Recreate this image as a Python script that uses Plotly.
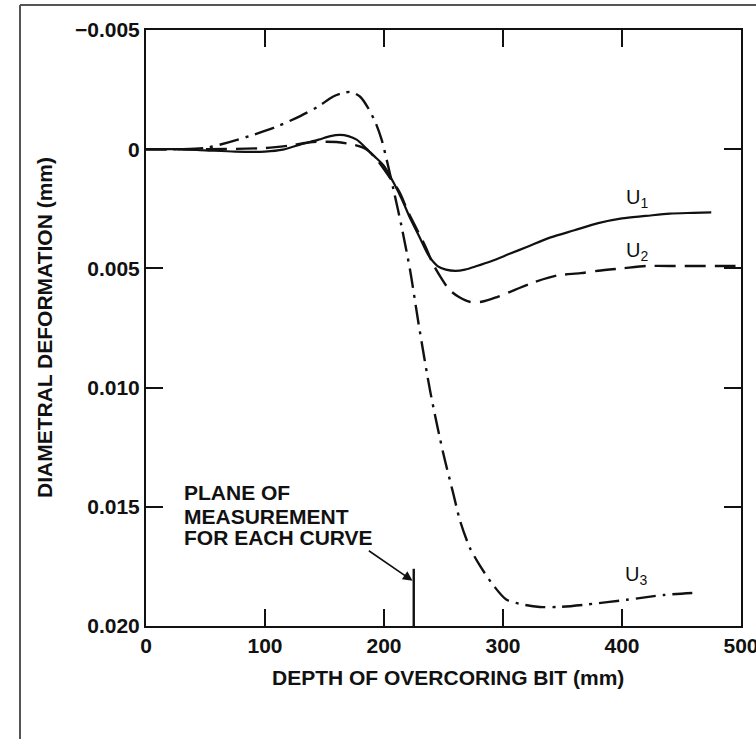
import plotly.graph_objects as go

# ---- data ----
u1_x = [0, 25, 50, 75, 100, 115, 130, 145, 155, 163, 170, 177, 185, 192, 200, 208, 215, 222, 230, 238, 245,
        252, 260, 268, 278, 290, 305, 320, 340, 360, 380, 400, 420, 440, 460, 475]
u1_y = [0, 0, 0.00005, 0.0001, 0.0001, 0.00002, -0.0002, -0.0004, -0.00055, -0.0006, -0.00055, -0.0004,
        -0.00004, 0.0003, 0.0007, 0.0014, 0.0021, 0.0029, 0.0037, 0.0045, 0.0049, 0.00505, 0.0051, 0.00505,
        0.0049, 0.0047, 0.0044, 0.0041, 0.0037, 0.0034, 0.0031, 0.0029, 0.0028, 0.0027, 0.00267, 0.00265]

u2_x = [0, 50, 100, 120, 140, 160, 175, 185, 195, 205, 213, 220, 228, 235, 241, 248, 255, 263, 272, 282,
        295, 310, 325, 345, 365, 380, 400, 420, 440, 460, 480, 500]
u2_y = [0, 0, -0.00005, -0.00015, -0.0003, -0.0003, -0.00018, 0.0, 0.0005, 0.0012, 0.0018, 0.0026, 0.0034,
        0.0041, 0.0048, 0.0054, 0.0059, 0.0062, 0.0064, 0.0064, 0.0062, 0.0059, 0.0056, 0.0053, 0.0052,
        0.0051, 0.0050, 0.0049, 0.0049, 0.0049, 0.0049, 0.0049]

u3_x = [0, 25, 50, 70, 90, 110, 130, 145, 157, 165, 172, 180, 187, 193, 198, 203, 208, 215, 222, 229, 239,
        250, 258, 264, 272, 281, 292, 303, 317, 331, 347, 370, 404, 435, 465]
u3_y = [0, 0, -0.00005, -0.0003, -0.0006, -0.00095, -0.0014, -0.0018, -0.0022, -0.00235, -0.0024, -0.0022,
        -0.0017, -0.0011, -0.0004, 0.0006, 0.0017, 0.0033, 0.0051, 0.0073, 0.0102, 0.0128, 0.0144, 0.0156,
        0.0167, 0.0175, 0.0183, 0.0189, 0.0191, 0.0192, 0.0192, 0.0191, 0.0189, 0.0187, 0.0186]

plane_x = [225, 225]
plane_y = [0.0176, 0.020]

x_ticks = [0, 100, 200, 300, 400, 500]
x_ticktext = ["0", "100", "200", "300", "400", "500"]
y_ticks = [-0.005, 0, 0.005, 0.010, 0.015, 0.020]
y_ticktext = ["\u22120.005", "0", "0.005", "0.010", "0.015", "0.020"]

curve_labels = ["U<sub>1</sub>", "U<sub>2</sub>", "U<sub>3</sub>"]
label_x = [413, 413, 412]
label_y = [0.00205, 0.0043, 0.0179]

note_lines = ["PLANE OF", "MEASUREMENT", "FOR EACH CURVE"]
note_x = 30
note_y = [0.0144, 0.0154, 0.0163]

FONT = "Liberation Sans, Arial, sans-serif"
INK = "#111111"

fig = go.Figure()
fig.add_trace(go.Scatter(x=u1_x, y=u1_y, mode="lines", line=dict(color=INK, width=2.2, shape="spline", smoothing=0.8)))
fig.add_trace(go.Scatter(x=u2_x, y=u2_y, mode="lines", line=dict(color=INK, width=2.4, dash="21px,9px", shape="spline", smoothing=0.8)))
fig.add_trace(go.Scatter(x=u3_x, y=u3_y, mode="lines", line=dict(color=INK, width=2.4, dash="20px,7px,3px,7px", shape="spline", smoothing=0.8)))
fig.add_trace(go.Scatter(x=plane_x, y=plane_y, mode="lines", line=dict(color=INK, width=2.4)))

annotations = []
for t, lx, ly in zip(curve_labels, label_x, label_y):
    annotations.append(dict(x=lx, y=ly, xref="x", yref="y", text=t, showarrow=False,
                            font=dict(family=FONT, size=20, color=INK)))

for t, ny in zip(note_lines, note_y):
    annotations.append(dict(x=note_x, y=ny, xref="x", yref="y", xanchor="left", yanchor="middle",
                            text="<b>" + t + "</b>", showarrow=False,
                            font=dict(family=FONT, size=21, color=INK)))
annotations.append(dict(x=224, y=0.0181, xref="x", yref="y", ax=186, ay=0.0168, axref="x", ayref="y",
                        text="", showarrow=True, arrowhead=2, arrowsize=1.2, arrowwidth=1.6, arrowcolor=INK,
                        standoff=0))
annotations.append(dict(x=-0.1613, y=0.5, xref="paper", yref="paper", textangle=-90, showarrow=False,
                        xanchor="center", yanchor="middle", xshift=-6,
                        text="<b>DIAMETRAL DEFORMATION (mm)</b>", font=dict(family=FONT, size=21, color=INK)))
annotations.append(dict(x=0.5076, y=-0.087, xref="paper", yref="paper", showarrow=False,
                        xanchor="center", yanchor="middle",
                        text="<b>DEPTH OF OVERCORING BIT (mm)</b>", font=dict(family=FONT, size=21, color=INK)))

fig.update_layout(
    width=756, height=739,
    margin=dict(l=146, r=15, t=30, b=113, autoexpand=False),
    paper_bgcolor="white", plot_bgcolor="white",
    showlegend=False,
    annotations=annotations,
    shapes=[
        dict(type="line", xref="paper", yref="paper", x0=(20 - 146) / 595, x1=(20 - 146) / 595,
             y0=1 + 25 / 596, y1=-113 / 596, line=dict(color="#555555", width=2)),
        dict(type="line", xref="paper", yref="paper", x0=(20 - 146) / 595, x1=(756 - 146) / 595,
             y0=1 + 25 / 596, y1=1 + 25 / 596, line=dict(color="#555555", width=2)),
    ],
)

fig.update_xaxes(range=[0, 500], tickvals=x_ticks, ticktext=x_ticktext, ticks="inside", ticklen=17,
                 tickwidth=2, tickcolor=INK, showline=True, linecolor=INK, linewidth=2, mirror="ticks",
                 showgrid=False, zeroline=False, ticklabeloverflow="allow", automargin=False,
                 tickfont=dict(family=FONT, size=21, color=INK, weight="bold"))
fig.update_yaxes(range=[0.020, -0.005], tickvals=y_ticks, ticktext=y_ticktext, ticks="inside", ticklen=17,
                 tickwidth=2, tickcolor=INK, showline=True, linecolor=INK, linewidth=2, mirror="ticks",
                 showgrid=False, zeroline=False, ticklabeloverflow="allow", automargin=False,
                 tickfont=dict(family=FONT, size=21, color=INK, weight="bold"))

fig.write_html("out.html")
